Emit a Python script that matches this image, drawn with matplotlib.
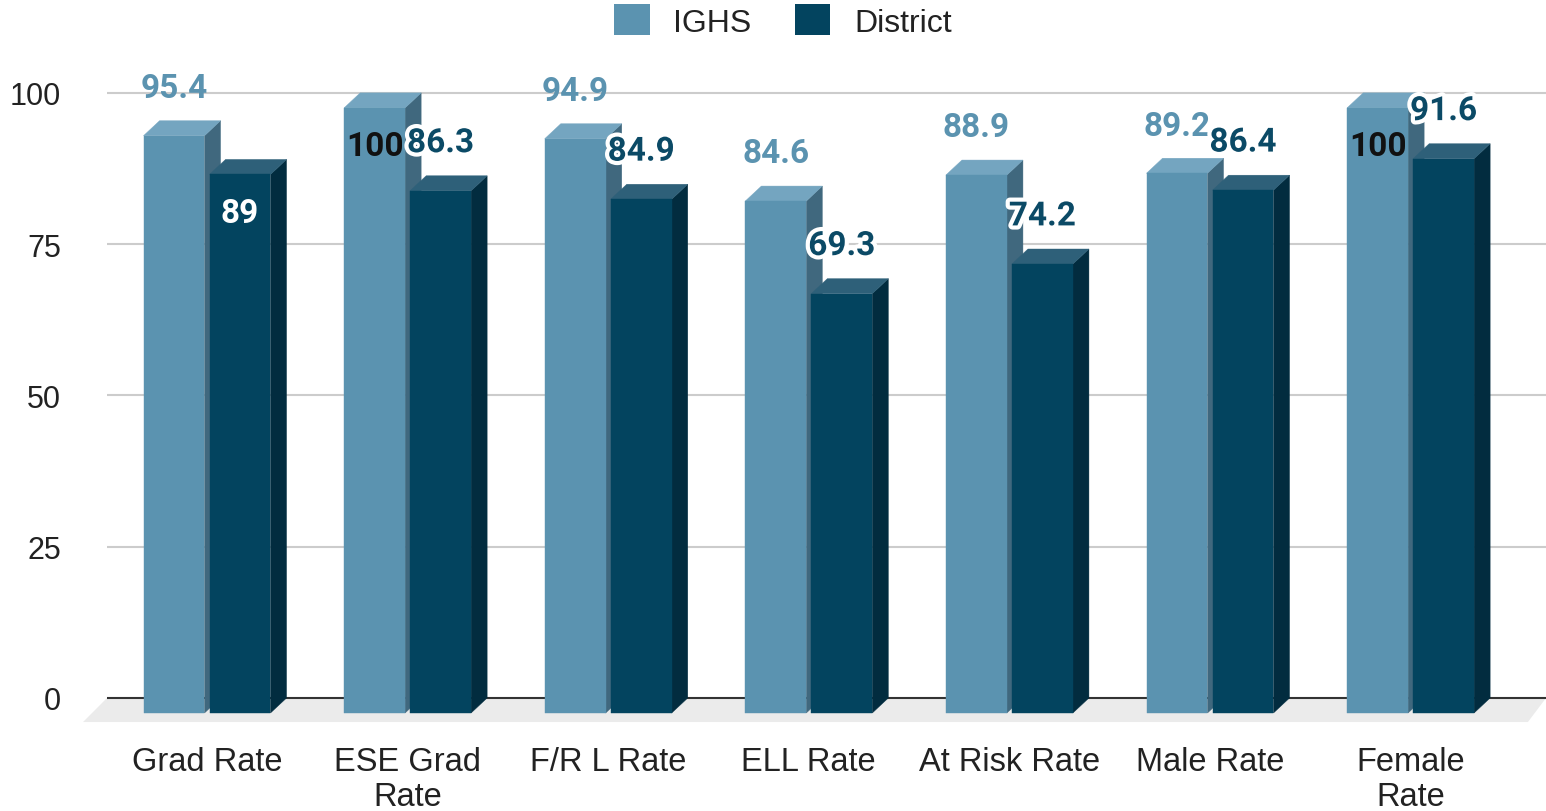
import matplotlib
matplotlib.use('Agg')
import matplotlib.pyplot as plt
from matplotlib.patches import Polygon, Patch
import matplotlib.patheffects as pe

matplotlib.rcParams['font.family'] = ['Liberation Sans', 'DejaVu Sans']

''' data '''
categories = ['Grad Rate', 'ESE Grad\nRate', 'F/R L Rate', 'ELL Rate',
              'At Risk Rate', 'Male Rate', 'Female\nRate']
ighs = [95.4, 100, 94.9, 84.6, 88.9, 89.2, 100]
district = [89, 86.3, 84.9, 69.3, 74.2, 86.4, 91.6]
yticks = [0, 25, 50, 75, 100]

''' style '''
ighsColors = {'front': '#5b93b0', 'top': '#74a5c0', 'side': '#40687e'}
distColors = {'front': '#03445f', 'top': '#2e6079', 'side': '#022c3f'}
barW = 0.304      # width of the front face (category units)
gap = 0.025
dx, dy = 0.080, 2.48   # depth offset of the 3d look
# labels google placed inside the bar (series, index)
insideLabels = {('ighs', 1), ('ighs', 6), ('district', 0)}

W, H = 1546, 812
fig = plt.figure(figsize=(W / 100, H / 100), dpi=100)
ax = fig.add_axes([107 / W, (H - 735) / H, 1439 / W, (735 - 60) / H])
ax.set_xlim(-0.4985, 6.675)
ax.set_ylim(-5.95, 105.6)
for s in ax.spines.values():
    s.set_visible(False)

# floor
floor = Polygon([(-0.4985, 0), (6.675, 0), (6.585, -3.97), (-0.618, -3.97)],
                closed=True, facecolor='#ebebeb', edgecolor='none', zorder=1, clip_on=False)
ax.add_patch(floor)

# gridlines
for t in yticks[1:]:
    ax.axhline(t, color='#cccccc', lw=1.5, zorder=2)
ax.axhline(0, color='#333333', lw=1.5, zorder=2)


def bar3d(ax, x0, h, col):
    front = [(x0, -dy), (x0 + barW, -dy), (x0 + barW, h - dy), (x0, h - dy)]
    top = [(x0, h - dy), (x0 + barW, h - dy), (x0 + barW + dx, h), (x0 + dx, h)]
    side = [(x0 + barW, -dy), (x0 + barW + dx, 0), (x0 + barW + dx, h), (x0 + barW, h - dy)]
    for pts, key in [(side, 'side'), (top, 'top'), (front, 'front')]:
        ax.add_patch(Polygon(pts, closed=True, facecolor=col[key], edgecolor=col[key],
                             lw=0.3, zorder=3, clip_on=False))


labelFont = dict(family=['Roboto', 'DejaVu Sans'], fontweight='bold', fontsize=24,
                 ha='center', va='baseline', clip_on=False)
stroke = [pe.withStroke(linewidth=6, foreground='white')]

for i in range(len(categories)):
    xI = i - gap / 2 - barW
    xD = i + gap / 2
    bar3d(ax, xI, ighs[i], ighsColors)
    bar3d(ax, xD, district[i], distColors)

for i in range(len(categories)):
    xI = i - gap / 2 - barW / 2
    xD = i + gap / 2 + barW / 2
    # IGHS labels
    v = ighs[i]
    if ('ighs', i) in insideLabels:
        ax.text(xI, v - 10.3, f'{v:g}', color='#111111', zorder=5, **labelFont)
    else:
        ax.text(xI, v + 3.9, f'{v:g}', color='#5b93b0', zorder=5, **labelFont)
    # District labels
    v = district[i]
    if ('district', i) in insideLabels:
        ax.text(xD, v - 10.3, f'{v:g}', color='white', zorder=6, **labelFont)
    else:
        ax.text(xD, v + 3.9, f'{v:g}', color='#0b4a66', zorder=6,
                path_effects=stroke, **labelFont)

ax.set_yticks(yticks)
ax.set_yticklabels([str(t) for t in yticks], fontsize=22, color='#222222')
ax.set_xticks(range(len(categories)))
ax.set_xticklabels(categories, fontsize=23.5, color='#222222', linespacing=1.15)
ax.tick_params(axis='y', length=0, pad=33)
ax.tick_params(axis='x', length=0, pad=9)

handles = [Patch(facecolor=ighsColors['front'], label='IGHS'),
           Patch(facecolor=distColors['front'], label='District')]
fig.legend(handles=handles, loc='center', bbox_to_anchor=(783 / W, 1 - 22 / H),
           ncol=2, frameon=False, fontsize=23, handlelength=1.1, handleheight=1.1,
           handletextpad=0.75, columnspacing=1.35, labelcolor='#222222')

fig.savefig('out.png', dpi=100)
